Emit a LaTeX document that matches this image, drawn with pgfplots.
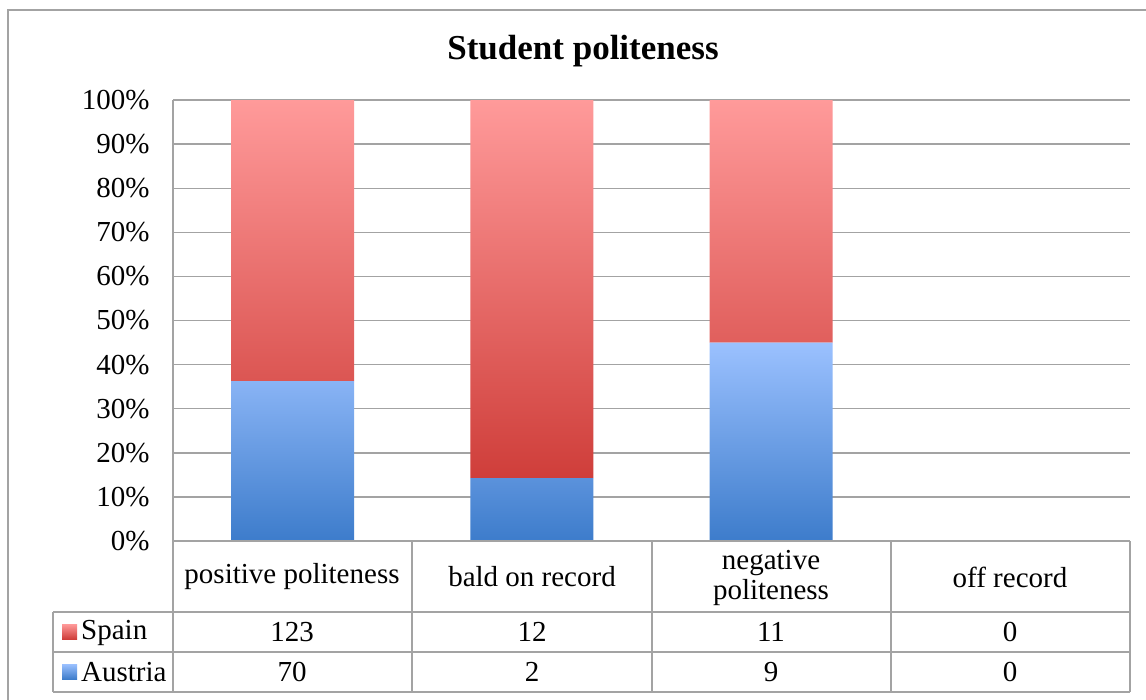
\documentclass[border=0pt]{standalone}
\usepackage{pgfplots}
\usepackage{pgfplotstable}
\pgfplotsset{compat=1.18}
\usepackage{fontspec}
\setmainfont{Liberation Serif}

\definecolor{gridgray}{HTML}{A3A3A3}
\definecolor{blueDark}{HTML}{3D7CCB}
\definecolor{blueMid}{HTML}{80ABF0}
\definecolor{blueLight}{HTML}{9BC1FF}
\definecolor{redDark}{HTML}{CF3E3A}
\definecolor{redMid}{HTML}{DE5855}
\definecolor{redLight}{HTML}{FF9A9A}

% counts per politeness strategy (off record has no observations)
\pgfplotstableread{
x    Austria Spain
0.5  70      123
1.5  2       12
2.5  9       11
}\politeness

\newcommand{\tabfont}{\fontsize{29}{33}\selectfont}

\begin{document}
\begin{tikzpicture}
\useasboundingbox (0pt,0pt) rectangle (1146pt,-699pt);
\fill[white] (0pt,0pt) rectangle (1146pt,-699pt);

\begin{axis}[
  at={(173pt,-541pt)}, anchor=south west,
  scale only axis, width=957pt, height=441pt,
  xmin=0, xmax=4, ymin=0, ymax=100,
  axis x line=none,
  axis y line*=left,
  axis line style={gridgray, line width=1.4pt},
  ytick={0,10,...,100},
  xtick=\empty,
  major tick length=0pt,
  ymajorgrids,
  grid style={gridgray, line width=1.4pt},
  yticklabel={\pgfmathprintnumber{\tick}\%},
  /pgf/number format/assume math mode=true,
  yticklabel style={font=\tabfont, xshift=-20pt},
  ybar stacked, bar width=123pt,
  clip=false,
]
\addplot[draw=none, top color=blueLight, middle color=blueMid, bottom color=blueDark]
  table[x=x, y expr={\thisrow{Austria}/(\thisrow{Austria}+\thisrow{Spain})*100}] {\politeness};
\addplot[draw=none, top color=redLight, middle color=redMid, bottom color=redDark]
  table[x=x, y expr={\thisrow{Spain}/(\thisrow{Austria}+\thisrow{Spain})*100}] {\politeness};
\end{axis}

\begin{scope}[x=1pt, y=-1pt]
  % outer chart frame
  \draw[gridgray, line width=1.4pt] (8,720) -- (8,10) -- (1160,10);
  % title
  \node[font=\fontsize{35}{40}\selectfont\bfseries] at (583,51) {Student politeness};
  % data table grid
  \begin{scope}[gridgray, line width=1.4pt]
    \draw (173,541) -- (1130,541);
    \draw (53,612) -- (1130,612);
    \draw (53,652) -- (1130,652);
    \draw (53,692) -- (1130,692);
    \draw (53,612) -- (53,692);
    \foreach \xx in {173,412,652,891,1130} \draw (\xx,541) -- (\xx,692);
  \end{scope}
  % header row
  \node[font=\tabfont] at (292,577) {positive politeness};
  \node[font=\tabfont] at (532,577) {bald on record};
  \node[font=\tabfont, align=center, inner sep=0pt] at (771,578) {negative\\[-3pt]politeness};
  \node[font=\tabfont] at (1010,577) {off record};
  % legend keys
  \shade[top color=redLight, bottom color=redDark] (62,624) rectangle (77,639);
  \shade[top color=blueLight, bottom color=blueDark] (62,664) rectangle (77,679);
  \node[font=\tabfont, anchor=west, inner sep=0pt] at (81,633) {Spain};
  \node[font=\tabfont, anchor=west, inner sep=0pt] at (81,672) {Austria};
  % counts
  \foreach \xx/\s/\a in {292/123/70, 532/12/2, 771/11/9, 1010/0/0} {
    \node[font=\tabfont] at (\xx,632) {\s};
    \node[font=\tabfont] at (\xx,672) {\a};
  }
\end{scope}
\end{tikzpicture}
\end{document}
